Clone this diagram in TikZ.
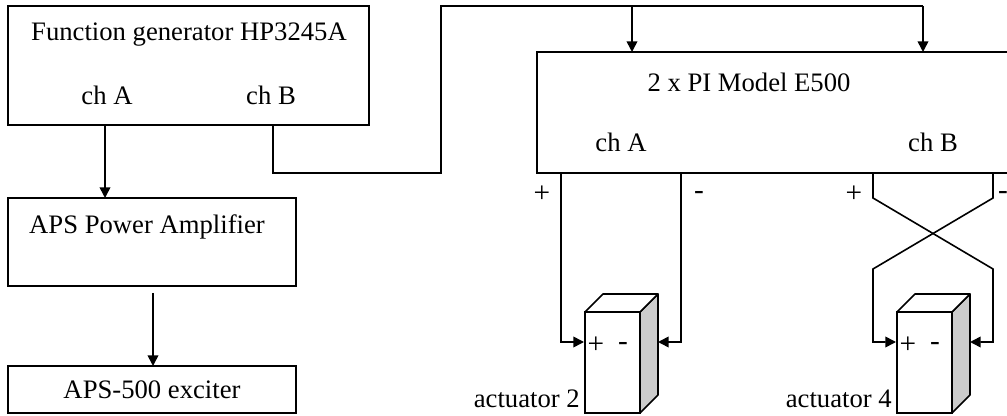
\documentclass[tikz,border=0pt]{standalone}
\usepackage{fontspec}
\setmainfont{Liberation Serif}
\usetikzlibrary{calc, positioning}
\usetikzlibrary{arrows.meta}
\tikzset{
  box/.style 2 args={draw, line width=1.2pt, anchor=north west, inner sep=0pt, outer sep=0pt,
    minimum width=#1*0.75pt, minimum height=#2*0.75pt},
  wire/.style={line width=1.2pt},
  feed/.style={line width=1.2pt, -{Triangle[length=8pt,width=8pt]}},
  lab/.style={inner sep=0pt, font=\fontsize{20}{24}\selectfont},
  sign/.style={inner sep=0pt, font=\fontsize{22}{24}\selectfont},
}
\newcommand{\actuator}[3]{%
  % shaded side, top face and front face
  \draw[line width=1.2pt, line join=round, fill=gray!40] (#2+55,312) -- ++(18,-18) -- ++(0,101) -- ++(-18,18) -- cycle;
  \draw[line width=1.2pt, line join=round, fill=white] (#2,312) -- ++(18,-18) -- ++(55,0) -- ++(-18,18) -- cycle;
  \node[box={55}{101}] (#1) at (#2,312) {};
  \node[sign] (#1p) at (#2+11,345) {+};
  \node[sign] (#1m) at (#2+38,346) {-};
  \node[lab, anchor=east] (#1l) at (#2-5,399) {actuator #3};
  \coordinate (#1in) at (#2-1,342);
  \coordinate (#1out) at (#2+73,342);
}
\begin{document}
\begin{tikzpicture}[x=0.75pt, y=-0.75pt]
\useasboundingbox (0,0) rectangle (1007,416);

% Boxes on the left
\node[box={361}{119}] (fg) at (8,6) {};
\node[box={288}{88}] (amp) at (8,198) {};
\node[box={288}{47}] (exciter) at (8,366) {};

\node[lab] (fgtitle) at (189,35) {Function generator HP3245A};
\node[lab] (fga) at (107,95) {ch A};
\node[lab] (fgb) at (271,95) {ch B};
\node[lab] (amptitle) at (147,227) {APS Power Amplifier};
\node[lab] (exctitle) at (152,390) {APS-500 exciter};

\coordinate (fgouta) at (105,125);
\coordinate (fgoutb) at (273,125);
\coordinate (ampout) at (153,293);
\draw[feed] (fgouta) -- (fgouta |- amp.north);
\draw[feed] (ampout) -- (ampout |- exciter.north);

% Controller, open at the right
\coordinate (pine) at (1007,52);
\coordinate (pinw) at (537,52);
\coordinate (pisw) at (537,173);
\coordinate (pise) at (1007,173);
\draw[wire] (pine) -- (pinw) -- (pisw) -- (pise);
\node[lab] (pititle) at (749,82) {2 x PI Model E500};
\node[lab] (pia) at (621,142) {ch A};
\node[lab] (pib) at (933,142) {ch B};

% Signal from ch B
\coordinate (busa) at (632,6);
\coordinate (busb) at (923,6);
\coordinate (pia in) at (632,52);
\coordinate (pib in) at (923,52);
\draw[wire] (fgoutb) -- (273,173) -- (441,173) -- (441,6) -- (busb);
\draw[feed] (busa) -- (pia in);
\draw[feed] (busb) -- (pib in);

% Actuators
\actuator{acttwo}{585}{2}
\actuator{actfour}{897}{4}

% Straight pair
\node[sign] (ap) at (542,194) {+};
\node[sign] (am) at (699,195) {-};
\coordinate (aplus) at (561,173);
\coordinate (aminus) at (681,173);
\draw[feed] (aplus) |- (acttwoin);
\draw[feed] (aminus) |- (acttwoout);

% Crossed pair
\node[sign] (bp) at (854,194) {+};
\node[sign] (bm) at (1003,195) {-};
\coordinate (bplus) at (873,173);
\coordinate (bminus) at (993,173);
\draw[feed] (bplus) -- (873,198) -- (993,269) |- (actfourout);
\draw[feed] (bminus) -- (993,198) -- (873,269) |- (actfourin);
\end{tikzpicture}
\end{document}
